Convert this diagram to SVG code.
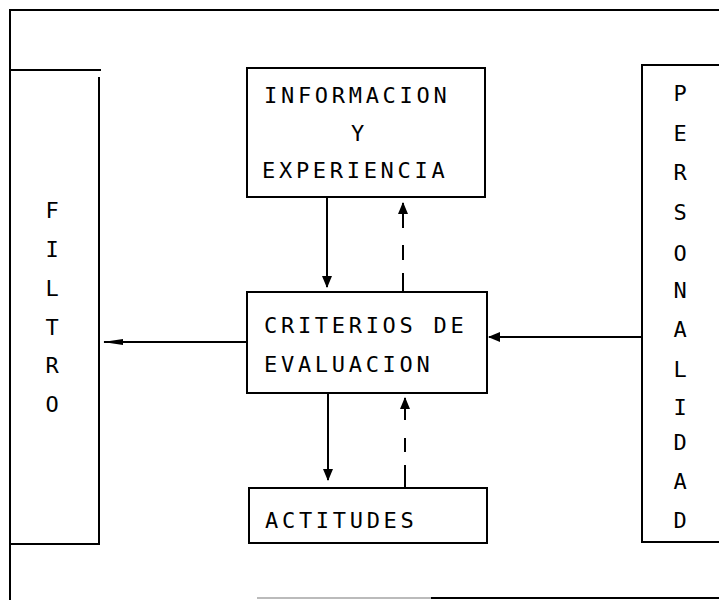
<svg xmlns="http://www.w3.org/2000/svg" width="719" height="600" viewBox="0 0 719 600">
  <defs>
    <style>
      .ln { fill: none; stroke: #000; stroke-width: 2; stroke-linecap: square; }
      .box { fill: #fff; stroke: #000; stroke-width: 2; }
      .lbl { font-family: "DejaVu Sans Mono", "Liberation Mono", monospace; font-size: 22px; fill: #000; letter-spacing: 3.7px; }
      .vlbl { font-family: "DejaVu Sans Mono", "Liberation Mono", monospace; font-size: 22px; fill: #000; text-anchor: middle; }
      .solid { fill: none; stroke: #000; stroke-width: 2; }
      .dash { fill: none; stroke: #000; stroke-width: 2; }
    </style>
    <marker id="head" viewBox="0 0 12 12" refX="11" refY="6" markerWidth="12" markerHeight="12" markerUnits="userSpaceOnUse" orient="auto">
      <path d="M0,1 L12,6 L0,11 Z" fill="#000"/>
    </marker>
    <marker id="headLong" viewBox="0 0 20 10" refX="19" refY="5" markerWidth="20" markerHeight="10" markerUnits="userSpaceOnUse" orient="auto">
      <path d="M0,2 L20,5 L0,8 Z" fill="#000"/>
    </marker>
  </defs>

  <rect width="719" height="600" fill="#fff"/>

  <!-- outer frame -->
  <g id="frame">
    <path class="ln" d="M10,600 L10,10 L719,10"/>
    <line x1="257" y1="598" x2="431" y2="598" stroke="#bbb" stroke-width="2"/>
    <line x1="431" y1="598" x2="719" y2="598" stroke="#000" stroke-width="2"/>
  </g>

  <!-- FILTRO -->
  <g id="filtro">
    <path class="ln" d="M10,70 L100,70"/>
    <path class="ln" d="M99,78 L99,544 L11,544"/>
    <text class="vlbl" x="52" y="218">F</text>
    <text class="vlbl" x="52" y="257">I</text>
    <text class="vlbl" x="52" y="296">L</text>
    <text class="vlbl" x="52" y="335">T</text>
    <text class="vlbl" x="52" y="373">R</text>
    <text class="vlbl" x="52" y="412">O</text>
  </g>

  <!-- PERSONALIDAD -->
  <g id="personalidad">
    <path class="ln" d="M719,65 L642,65 L642,542 L719,542"/>
    <text class="vlbl" x="680" y="101">P</text>
    <text class="vlbl" x="680" y="141">E</text>
    <text class="vlbl" x="680" y="180">R</text>
    <text class="vlbl" x="680" y="220">S</text>
    <text class="vlbl" x="680" y="261">O</text>
    <text class="vlbl" x="680" y="298">N</text>
    <text class="vlbl" x="680" y="337">A</text>
    <text class="vlbl" x="680" y="377">L</text>
    <text class="vlbl" x="680" y="415">I</text>
    <text class="vlbl" x="680" y="450">D</text>
    <text class="vlbl" x="680" y="489">A</text>
    <text class="vlbl" x="680" y="528">D</text>
  </g>

  <!-- INFORMACION Y EXPERIENCIA -->
  <g id="informacion">
    <rect class="box" x="247" y="68" width="238" height="129"/>
    <text class="lbl" x="264" y="103">INFORMACION</text>
    <text class="lbl" x="351" y="141" style="letter-spacing:0">Y</text>
    <text class="lbl" x="262" y="178">EXPERIENCIA</text>
  </g>

  <!-- CRITERIOS DE EVALUACION -->
  <g id="criterios">
    <rect class="box" x="247" y="292" width="240" height="101"/>
    <text class="lbl" x="264" y="333">CRITERIOS DE</text>
    <text class="lbl" x="264" y="372">EVALUACION</text>
  </g>

  <!-- ACTITUDES -->
  <g id="actitudes">
    <rect class="box" x="249" y="488" width="238" height="55"/>
    <text class="lbl" x="265" y="528">ACTITUDES</text>
  </g>

  <!-- connectors -->
  <g id="connectors">
    <line class="solid" x1="327" y1="197" x2="327" y2="287" marker-end="url(#head)"/>
    <line class="dash" x1="403" y1="292" x2="403" y2="203" stroke-dasharray="19,13,15,17,40" marker-end="url(#head)"/>
    <line class="solid" x1="328" y1="393" x2="328" y2="480" marker-end="url(#head)"/>
    <line class="dash" x1="405" y1="488" x2="405" y2="398" stroke-dasharray="23,13,14,18,40" marker-end="url(#head)"/>
    <line class="solid" x1="247" y1="342" x2="104" y2="342" marker-end="url(#headLong)"/>
    <line class="solid" x1="642" y1="337" x2="489" y2="337" marker-end="url(#head)"/>
  </g>
</svg>
